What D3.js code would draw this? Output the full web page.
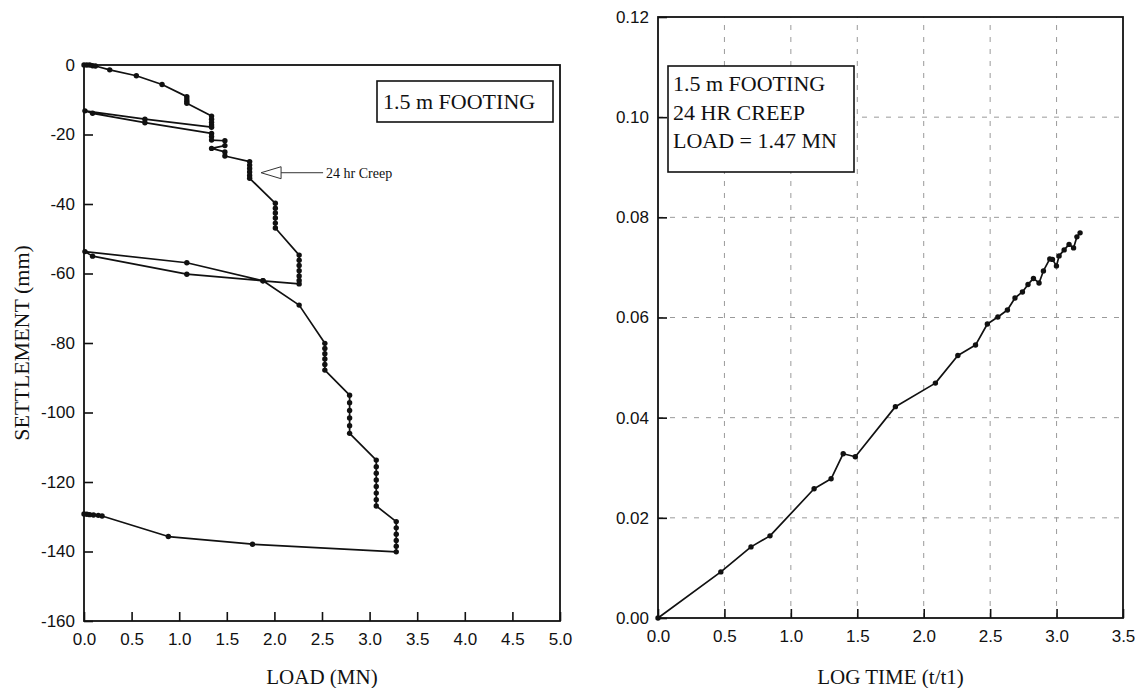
<!DOCTYPE html>
<html>
<head>
<meta charset="utf-8">
<script src="https://cdn.jsdelivr.net/npm/d3@7"></script>
<style>
  html, body { margin: 0; padding: 0; background: #fff; }
  svg { display: block; }
  .tick text { font-family: "Liberation Sans", Arial, sans-serif; font-size: 17px; fill: #111; }
  .title { font-family: "Liberation Serif", "Times New Roman", serif; font-size: 21px; fill: #111; }
  .boxtext { font-family: "Liberation Serif", "Times New Roman", serif; font-size: 22px; fill: #111; }
</style>
</head>
<body>
<svg id="chart" width="1135" height="688"></svg>
<script>
// ---- Load test: load (MN) vs settlement (mm), in test order ----
const loadMN = [
  0, 0.03, 0.06, 0.09, 0.12, 0.27, 0.55, 0.82,
  1.08, 1.08, 1.08, 1.08,
  1.34, 1.34, 1.34, 1.34, 1.34,
  0.64, 0.01,
  0.09, 0.64, 1.34, 1.34, 1.34,
  1.48, 1.48, 1.34, 1.48, 1.48,
  1.74, 1.74, 1.74, 1.74, 1.74, 1.74,
  2.01, 2.01, 2.01, 2.01, 2.01, 2.01,
  2.26, 2.26, 2.26, 2.26, 2.26, 2.26, 2.26,
  1.88, 1.08, 0.09, 0.01,
  1.08, 1.88, 2.26,
  2.53, 2.53, 2.53, 2.53, 2.53, 2.53,
  2.79, 2.79, 2.79, 2.79, 2.79, 2.79,
  3.07, 3.07, 3.07, 3.07, 3.07, 3.07, 3.07, 3.07,
  3.28, 3.28, 3.28, 3.28, 3.28, 3.28,
  1.77, 0.886, 0.19, 0.15, 0.10, 0.06, 0.03, 0
];
const settlementMM = [
  0, 0, 0, -0.2, -0.3, -1.4, -3.1, -5.6,
  -9.1, -9.8, -10.4, -11.0,
  -14.7, -15.6, -16.5, -17.3, -17.9,
  -15.6, -13.2,
  -13.9, -16.6, -19.7, -20.6, -21.6,
  -21.8, -23.2, -24.0, -25.0, -26.2,
  -27.8, -28.8, -29.8, -30.8, -31.8, -32.6,
  -39.8, -41.2, -42.6, -44.0, -45.5, -46.9,
  -54.7, -56.2, -57.7, -59.2, -60.7, -62.0, -63.0,
  -62.1, -60.2, -55.0, -53.7,
  -56.9, -62.1, -69.1,
  -80.1, -81.6, -83.1, -84.6, -86.2, -87.8,
  -95.0, -97.2, -99.4, -101.6, -103.8, -106.0,
  -113.7, -115.6, -117.5, -119.4, -121.3, -123.2, -125.1, -126.9,
  -131.4, -133.2, -135.0, -136.8, -138.5, -140.1,
  -137.9, -135.7, -129.8, -129.6, -129.5, -129.4, -129.3, -129.2
];
const loadTicks = [0, 0.5, 1, 1.5, 2, 2.5, 3, 3.5, 4, 4.5, 5];
const settlementTicks = [0, -20, -40, -60, -80, -100, -120, -140, -160];

// ---- 24 hr creep: log time vs creep ----
const logTime = [
  0, 0.473, 0.70, 0.843, 1.175, 1.303, 1.394, 1.485, 1.787, 2.088,
  2.257, 2.39, 2.479, 2.558, 2.63, 2.687, 2.743, 2.785, 2.826, 2.868,
  2.901, 2.949, 2.969, 2.999, 3.019, 3.057, 3.094, 3.128, 3.153, 3.177
];
const creep = [
  0, 0.0092, 0.0142, 0.0164, 0.0258, 0.0278, 0.0328, 0.0322, 0.0422, 0.0469,
  0.0524, 0.0545, 0.0587, 0.0601, 0.0615, 0.0639, 0.0651, 0.0666, 0.0678, 0.0669,
  0.0693, 0.0717, 0.0716, 0.0703, 0.0723, 0.0735, 0.0746, 0.0739, 0.0761, 0.0769
];
const timeTicks = [0, 0.5, 1, 1.5, 2, 2.5, 3, 3.5];
const creepTicks = [0, 0.02, 0.04, 0.06, 0.08, 0.10, 0.12];

const leftNote = ["1.5 m FOOTING"];
const rightNote = ["1.5 m FOOTING", "24 HR CREEP", "LOAD = 1.47 MN"];

const svg = d3.select("#chart");

function frame(g, x, y) {
  const [x0, x1] = x.range(), [y0, y1] = y.range();
  g.append("rect")
    .attr("x", x0).attr("y", y1)
    .attr("width", x1 - x0).attr("height", y0 - y1)
    .attr("fill", "none").attr("stroke", "#111").attr("stroke-width", 1.8);
}

function styleAxis(g) {
  g.select(".domain").remove();
  g.selectAll(".tick line").attr("stroke", "#111").attr("stroke-width", 1.6);
}

// ================= Left panel =================
const xL = d3.scaleLinear().domain([0, 5]).range([84, 560]);
const yL = d3.scaleLinear().domain([-160, 0]).range([621, 65]);
const gL = svg.append("g");

gL.append("g").attr("transform", `translate(0,${yL(-160)})`)
  .call(d3.axisBottom(xL).tickValues(loadTicks).tickFormat(d => d.toFixed(1))
    .tickSizeInner(-9).tickSizeOuter(0).tickPadding(12))
  .call(styleAxis);
gL.append("g").attr("transform", `translate(${xL(0)},0)`)
  .call(d3.axisLeft(yL).tickValues(settlementTicks).tickFormat(d => String(d))
    .tickSizeInner(-9).tickSizeOuter(0).tickPadding(9))
  .call(styleAxis);
frame(gL, xL, yL);

const loadPts = loadMN.map((d, i) => [d, settlementMM[i]]);
gL.append("path").datum(loadPts)
  .attr("fill", "none").attr("stroke", "#111").attr("stroke-width", 1.7)
  .attr("stroke-linejoin", "round")
  .attr("d", d3.line().x(d => xL(d[0])).y(d => yL(d[1])));
gL.selectAll("circle.pt").data(loadPts).join("circle")
  .attr("class", "pt").attr("cx", d => xL(d[0])).attr("cy", d => yL(d[1]))
  .attr("r", 2.7).attr("fill", "#111");

// axis titles
gL.append("text").attr("class", "title")
  .attr("x", (xL(0) + xL(5)) / 2).attr("y", 684).attr("text-anchor", "middle")
  .text("LOAD (MN)");
gL.append("text").attr("class", "title")
  .attr("transform", `translate(29,${(yL(0) + yL(-160)) / 2}) rotate(-90)`)
  .attr("text-anchor", "middle").style("font-size", "22px")
  .text("SETTLEMENT (mm)");

// note box
gL.append("rect").attr("x", 377).attr("y", 81).attr("width", 176).attr("height", 41)
  .attr("fill", "#fff").attr("stroke", "#111").attr("stroke-width", 1.6);
gL.append("text").attr("class", "boxtext").attr("x", 383).attr("y", 109).text(leftNote[0]);

// creep annotation arrow
const tipX = xL(1.86), tipY = yL(-31);
gL.append("path")
  .attr("d", `M${tipX},${tipY} L${tipX + 20},${tipY - 6} L${tipX + 20},${tipY + 6} Z`)
  .attr("fill", "#fff").attr("stroke", "#333").attr("stroke-width", 1);
gL.append("line").attr("x1", tipX + 20).attr("y1", tipY).attr("x2", tipX + 62).attr("y2", tipY)
  .attr("stroke", "#333").attr("stroke-width", 1);
gL.append("text").attr("x", tipX + 65).attr("y", tipY + 5)
  .style("font-family", "'Liberation Serif', 'Times New Roman', serif").style("font-size", "14px")
  .attr("fill", "#111").text("24 hr Creep");

// ================= Right panel =================
const xR = d3.scaleLinear().domain([0, 3.5]).range([658, 1123]);
const yR = d3.scaleLinear().domain([0, 0.12]).range([618, 17]);
const gR = svg.append("g");

// dashed grid
gR.selectAll("line.vg").data(timeTicks.slice(1, -1)).join("line")
  .attr("x1", d => xR(d)).attr("x2", d => xR(d))
  .attr("y1", yR(0)).attr("y2", yR(0.12))
  .attr("stroke", "#9a9a9a").attr("stroke-width", 1).attr("stroke-dasharray", "5,7");
gR.selectAll("line.hg").data(creepTicks.slice(1, -1)).join("line")
  .attr("x1", xR(0)).attr("x2", xR(3.5))
  .attr("y1", d => yR(d)).attr("y2", d => yR(d))
  .attr("stroke", "#9a9a9a").attr("stroke-width", 1).attr("stroke-dasharray", "5,7");

gR.append("g").attr("transform", `translate(0,${yR(0)})`)
  .call(d3.axisBottom(xR).tickValues(timeTicks).tickFormat(d => d.toFixed(1))
    .tickSizeInner(-9).tickSizeOuter(0).tickPadding(12))
  .call(styleAxis);
gR.append("g").attr("transform", `translate(${xR(0)},0)`)
  .call(d3.axisLeft(yR).tickValues(creepTicks).tickFormat(d => d.toFixed(2))
    .tickSizeInner(-9).tickSizeOuter(0).tickPadding(9))
  .call(styleAxis);
frame(gR, xR, yR);

const creepPts = logTime.map((d, i) => [d, creep[i]]);
gR.append("path").datum(creepPts)
  .attr("fill", "none").attr("stroke", "#111").attr("stroke-width", 1.7)
  .attr("stroke-linejoin", "round")
  .attr("d", d3.line().x(d => xR(d[0])).y(d => yR(d[1])));
gR.selectAll("circle.pt").data(creepPts).join("circle")
  .attr("class", "pt").attr("cx", d => xR(d[0])).attr("cy", d => yR(d[1]))
  .attr("r", 2.7).attr("fill", "#111");

gR.append("text").attr("class", "title")
  .attr("x", (xR(0) + xR(3.5)) / 2).attr("y", 684).attr("text-anchor", "middle")
  .text("LOG TIME (t/t1)");

// note box
gR.append("rect").attr("x", 668).attr("y", 66).attr("width", 186).attr("height", 106)
  .attr("fill", "#fff").attr("stroke", "#111").attr("stroke-width", 1.6);
gR.selectAll("text.note").data(rightNote).join("text")
  .attr("class", "boxtext note").attr("x", 673).attr("y", (d, i) => 91 + i * 28.5)
  .text(d => d);
</script>
</body>
</html>
